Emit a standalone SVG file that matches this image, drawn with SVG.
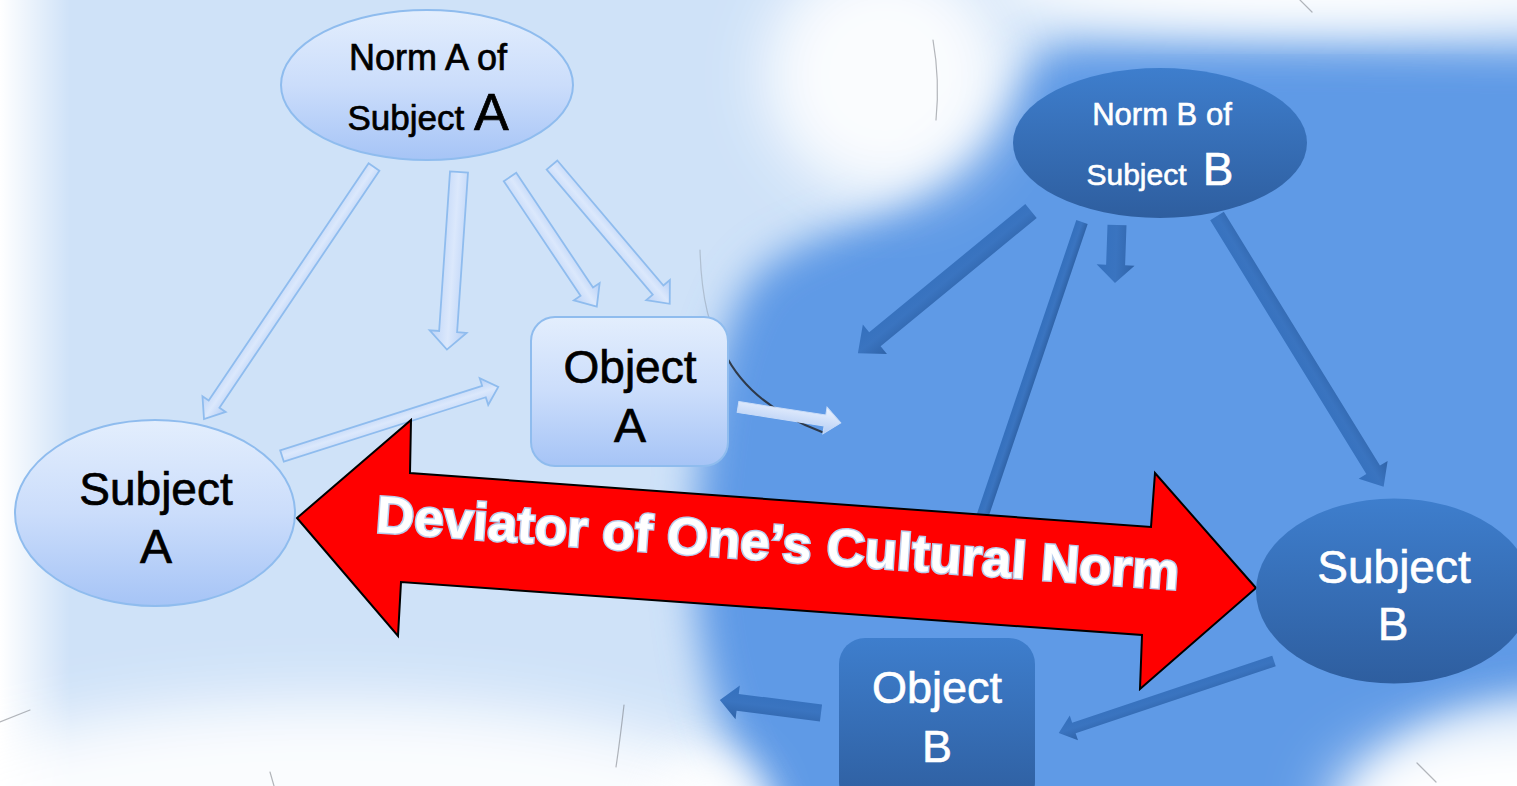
<svg xmlns="http://www.w3.org/2000/svg" width="1517" height="786" viewBox="0 0 1517 786">
<defs>
<style>
.lt{font-family:"Liberation Sans",Arial,sans-serif;fill:#000;stroke:#000;stroke-width:0.7}
.wt{font-family:"Liberation Sans",Arial,sans-serif;fill:#fff;stroke:#fff;stroke-width:0.6}
.ln{stroke:#8fbcee;stroke-width:2}
.la{fill:url(#gLA);stroke:#8fbcee;stroke-width:1.8;stroke-linejoin:miter}
.da{fill:url(#gDA);stroke:none}
.crack{fill:none;stroke:#6b6f78;stroke-width:1.2;stroke-linecap:round;opacity:.5}
</style>
<linearGradient id="gLN" x1="0" y1="0" x2="0" y2="1">
<stop offset="0" stop-color="#e3eefd"/><stop offset="0.5" stop-color="#cbddfb"/><stop offset="1" stop-color="#a6c4f6"/>
</linearGradient>
<linearGradient id="gDN" x1="0" y1="0" x2="0" y2="1">
<stop offset="0" stop-color="#3e7ecd"/><stop offset="1" stop-color="#2e5e9f"/>
</linearGradient>
<linearGradient id="gLA" x1="0" y1="0" x2="0" y2="1">
<stop offset="0" stop-color="#b6cff6"/><stop offset="0.5" stop-color="#dbe8fc"/><stop offset="1" stop-color="#bcd3f7"/>
</linearGradient>
<linearGradient id="gLA2" x1="0" y1="0" x2="0" y2="1">
<stop offset="0" stop-color="#eef4fe"/><stop offset="1" stop-color="#b4cdf5"/>
</linearGradient>
<linearGradient id="gDA" x1="0" y1="0" x2="0" y2="1">
<stop offset="0" stop-color="#2f63a8"/><stop offset="0.5" stop-color="#3a74c0"/><stop offset="1" stop-color="#3470bd"/>
</linearGradient>
<linearGradient id="gLeft" x1="0" y1="0" x2="1" y2="0">
<stop offset="0" stop-color="#ffffff"/><stop offset="1" stop-color="#ffffff" stop-opacity="0"/>
</linearGradient>
<filter id="blur30" x="-50%" y="-50%" width="200%" height="200%"><feGaussianBlur stdDeviation="30"/></filter>
<filter id="blur20" x="-50%" y="-50%" width="200%" height="200%"><feGaussianBlur stdDeviation="20"/></filter>
</defs>

<g id="background">
<rect x="0" y="0" width="1517" height="786" fill="#cfe2f8"/>
<rect x="0" y="0" width="70" height="786" fill="url(#gLeft)"/>
<ellipse cx="330" cy="830" rx="460" ry="130" fill="#ffffff" filter="url(#blur30)" opacity="0.9"/>
<path d="M 740 300 C 760 260 790 250 850 225 C 920 200 980 140 1010 90 C 1030 55 1050 45 1090 45 L 1640 50 L 1640 690 C 1460 690 1380 730 1340 840 L 790 840 C 725 770 690 650 695 540 C 700 430 715 350 740 300 Z" fill="#5e9ae6" filter="url(#blur20)"/>
<ellipse cx="885" cy="75" rx="120" ry="120" fill="#ffffff" filter="url(#blur30)" opacity="0.9"/>
<ellipse cx="1320" cy="-10" rx="330" ry="32" fill="#ffffff" filter="url(#blur20)"/>
<ellipse cx="1530" cy="810" rx="200" ry="85" fill="#ffffff" filter="url(#blur30)"/>
<ellipse cx="710" cy="810" rx="60" ry="60" fill="#ffffff" filter="url(#blur20)" opacity="0.8"/>
<path class="crack" d="M 700 250 Q 702 320 724 352" style="opacity:.3"/>
<path class="crack" d="M 724 352 Q 750 405 822 432" style="stroke:#25282e;stroke-width:2;opacity:.85"/>
<path class="crack" d="M 933 40 Q 940 80 936 120"/>
<path class="crack" d="M 1300 0 L 1312 12"/>
<path class="crack" d="M 1417 763 L 1436 782"/>
<path class="crack" d="M 624 705 Q 620 740 616 767"/>
<path class="crack" d="M 0 722 L 30 710"/>
<path class="crack" d="M 270 772 L 274 786"/>
</g>

<g id="connectors">
<!-- light arrows (Norm A side) -->
<path class="la" transform="translate(374,167) rotate(124)" d="M0,-6.5 L286,-6.5 L286,-14 L304,0 L286,14 L286,6.5 L0,6.5 Z"/>
<path class="la" transform="translate(459,172) rotate(93.9)" d="M0,-9 L160,-9 L160,-18.5 L178,0 L160,18.5 L160,9 L0,9 Z"/>
<path class="la" transform="translate(510,177) rotate(56.2)" d="M0,-7.5 L138,-7.5 L138,-15.5 L156,0 L138,15.5 L138,7.5 L0,7.5 Z"/>
<path class="la" transform="translate(552,165) rotate(49.7)" d="M0,-7 L164,-7 L164,-15.5 L182,0 L164,15.5 L164,7 L0,7 Z"/>
<path class="la" transform="translate(282,456) rotate(-17.7)" d="M0,-6 L212,-6 L212,-14 L227,0 L212,14 L212,6 L0,6 Z"/>
<path transform="translate(738,407) rotate(8.8)" d="M0,-5.5 L88,-5.5 L88,-13.5 L104,0 L88,13.5 L88,5.5 L0,5.5 Z" fill="url(#gLA2)" stroke="#c9dcf8" stroke-width="1"/>
<!-- dark arrows (Norm B side) -->
<path class="da" transform="translate(1031,211) rotate(140.6)" d="M0,-9 L202,-9 L202,-19 L224,0 L202,19 L202,9 L0,9 Z"/>
<path class="da" transform="translate(1117,225) rotate(92)" d="M0,-9.5 L40,-9.5 L40,-19 L58,0 L40,19 L40,9.5 L0,9.5 Z"/>
<path class="da" transform="translate(1082,222) rotate(108.7)" d="M0,-6 L330,-6 L330,6 L0,6 Z"/>
<path class="da" transform="translate(1217,216) rotate(58.4)" d="M0,-8 L298,-8 L298,-17 L318,0 L298,17 L298,8 L0,8 Z"/>
<path class="da" transform="translate(1274,661) rotate(161.5)" d="M0,-5.5 L211,-5.5 L211,-13 L227,0 L211,13 L211,5.5 L0,5.5 Z"/>
<path class="da" transform="translate(821,713) rotate(187.3)" d="M0,-8.5 L84,-8.5 L84,-17 L102,0 L84,17 L84,8.5 L0,8.5 Z"/>
<!-- red double arrow -->
<g id="deviator-arrow">
<polygon points="297,518 411,420 410,473 1151,527 1155,473 1256,588 1140,689 1142,635 401,582 398,636" fill="#ff0000" stroke="#000" stroke-width="2" stroke-linejoin="miter"/>
<text x="375" y="532" transform="rotate(4.1 375 532)" font-family="'Liberation Sans',Arial,sans-serif" font-weight="bold" font-size="52" fill="#ffffff" stroke="#b9cdec" stroke-width="3" paint-order="stroke" textLength="805" lengthAdjust="spacingAndGlyphs">Deviator of One’s Cultural Norm</text>
</g>
</g>

<g id="norm-a">
<ellipse cx="427" cy="85" rx="146" ry="75" fill="url(#gLN)" class="ln"/>
<text class="lt" x="428" y="70" font-size="36" text-anchor="middle">Norm A of</text>
<text class="lt" x="428" y="130" text-anchor="middle"><tspan font-size="35">Subject </tspan><tspan font-size="52">A</tspan></text>
</g>
<g id="object-a">
<rect x="531" y="317" width="197" height="149" rx="24" fill="url(#gLN)" class="ln"/>
<text class="lt" x="630" y="383" font-size="46" text-anchor="middle">Object</text>
<text class="lt" x="630" y="442" font-size="48" text-anchor="middle">A</text>
</g>
<g id="subject-a">
<ellipse cx="155" cy="513" rx="140" ry="93" fill="url(#gLN)" class="ln"/>
<text class="lt" x="156" y="505" font-size="46" text-anchor="middle">Subject</text>
<text class="lt" x="156" y="563" font-size="48" text-anchor="middle">A</text>
</g>
<g id="norm-b">
<ellipse cx="1160" cy="143" rx="147" ry="75" fill="url(#gDN)"/>
<text class="wt" x="1162" y="125" font-size="31" text-anchor="middle">Norm B of</text>
<text class="wt" x="1160" y="185" text-anchor="middle"><tspan font-size="30">Subject </tspan><tspan font-size="46" dx="8">B</tspan></text>
</g>
<g id="subject-b">
<ellipse cx="1394" cy="591" rx="138" ry="92.5" fill="url(#gDN)"/>
<text class="wt" x="1394" y="583" font-size="46" text-anchor="middle">Subject</text>
<text class="wt" x="1393" y="640" font-size="46" text-anchor="middle">B</text>
</g>
<g id="object-b">
<rect x="839" y="638" width="196" height="170" rx="26" fill="url(#gDN)"/>
<text class="wt" x="937" y="703" font-size="45" text-anchor="middle">Object</text>
<text class="wt" x="937" y="762" font-size="45" text-anchor="middle">B</text>
</g>
</svg>
